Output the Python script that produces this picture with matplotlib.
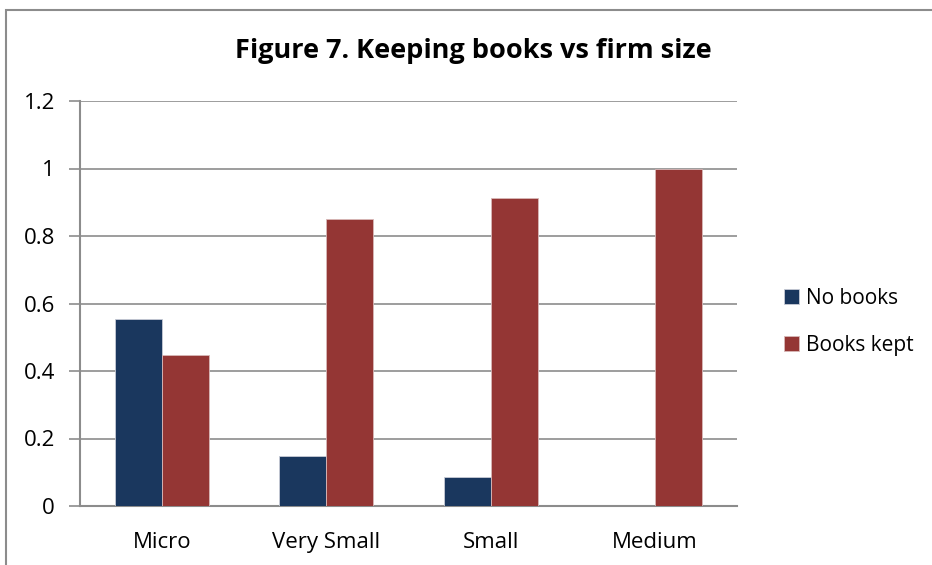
import matplotlib.pyplot as plt
from matplotlib.patches import Rectangle
import numpy as np

categories = ["Micro", "Very Small", "Small", "Medium"]
no_books = [0.553, 0.149, 0.087, 0.0]
books_kept = [0.447, 0.851, 0.913, 1.0]
yticks = [0, 0.2, 0.4, 0.6, 0.8, 1.0, 1.2]
ytick_labels = ["0", "0.2", "0.4", "0.6", "0.8", "1", "1.2"]

plt.rcParams['font.family'] = ['Open Sans', 'DejaVu Sans']

W, H = 932, 565
fig = plt.figure(figsize=(W / 100, H / 100), dpi=100)

# chart border (only top and left edges visible in the reference)
fig.patches.append(Rectangle((6 / W, -0.1), 1.2, 1 - 10 / H + 0.1,
                             transform=fig.transFigure, fill=False,
                             edgecolor="#8c8c8c", linewidth=1.5))

ax = fig.add_axes([80 / W, 1 - 506 / H, (737 - 80) / W, (506 - 101) / H])

x = np.arange(len(categories))
w = 0.286
ax.bar(x - w / 2, no_books, w, color="#1a375e", edgecolor="#c8ccd6",
       linewidth=0.6, label="No books", zorder=3)
ax.bar(x + w / 2, books_kept, w, color="#943634", edgecolor="#d8b8b8",
       linewidth=0.6, label="Books kept", zorder=3)

ax.set_xlim(-0.5, len(categories) - 0.5)
ax.set_ylim(0, 1.2)
ax.set_yticks(yticks)
ax.set_yticklabels(ytick_labels, fontsize=16)
ax.set_xticks(x)
ax.set_xticklabels(categories, fontsize=16)
ax.yaxis.grid(True, color="#8c8c8c", linewidth=1.2, zorder=0)
ax.tick_params(axis="y", length=8, width=1.2, color="#8c8c8c", pad=10)
ax.tick_params(axis="x", length=0, pad=19)
for s in ["top", "right"]:
    ax.spines[s].set_visible(False)
for s in ["left", "bottom"]:
    ax.spines[s].set_color("#8c8c8c")
    ax.spines[s].set_linewidth(1.5)

fig.text(473 / W, 1 - 51 / H, "Figure 7. Keeping books vs firm size",
         ha="center", va="center", fontsize=19.5, fontweight="bold")

fig.legend(loc="center left", bbox_to_anchor=(765 / W, 1 - 322 / H),
           frameon=False, fontsize=15, handlelength=0.75, handleheight=0.75,
           handletextpad=0.3, labelspacing=1.25)

fig.savefig("out.png", dpi=100)
